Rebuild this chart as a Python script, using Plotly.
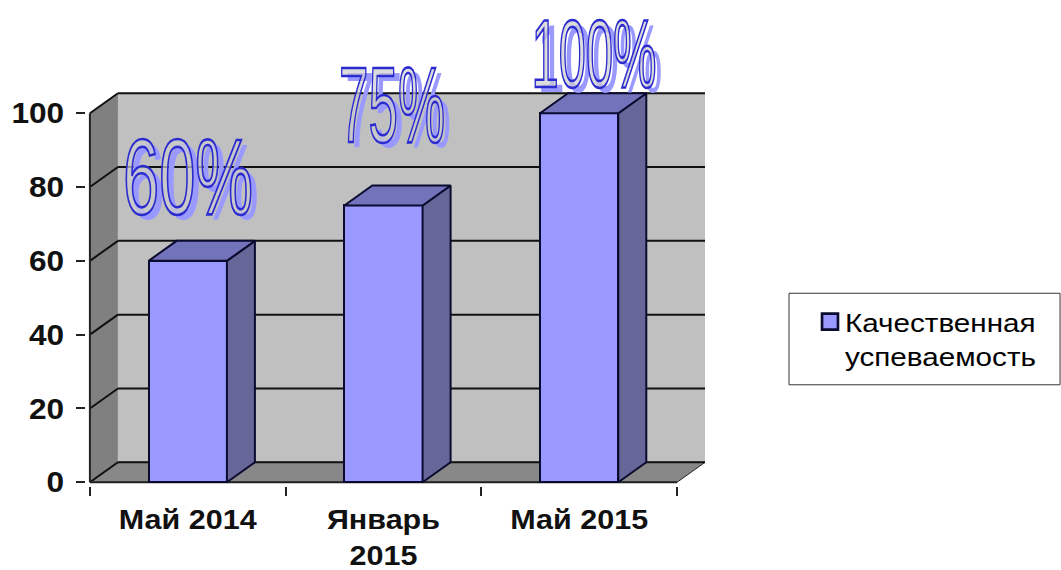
import plotly.graph_objects as go

categories = ["Май 2014", "Январь<br>2015", "Май 2015"]
values = [60, 75, 100]
labels = ["60%", "75%", "100%"]
series_name = "Качественная<br>успеваемость"
y_ticks = [0, 20, 40, 60, 80, 100]

W_PX, H_PX = 1061, 570
X0_PX, BAND_PX = 90.0, 195.67
Y0_PX, UNIT_PX = 482.0, 3.69
DX = 28 / BAND_PX
DY = 20 / UNIT_PX
BAR_W = 0.4
PAD_X, PAD_Y = 0.02, 1.0

x_min, x_max = -PAD_X, 3 + DX
y_min, y_max = -PAD_Y, 100 + DY + 0.6
m_l = X0_PX + x_min * BAND_PX
m_r = W_PX - (X0_PX + x_max * BAND_PX)
m_t = Y0_PX - y_max * UNIT_PX
m_b = H_PX - (Y0_PX - y_min * UNIT_PX)
plot_w = W_PX - m_l - m_r
plot_h = H_PX - m_t - m_b


def fx(p):
    return (p - m_l) / plot_w


def fy(p):
    return 1 - (p - m_t) / plot_h


positions = [i + 0.5 for i in range(len(categories))]
fig = go.Figure()

fig.add_trace(go.Bar(
    x=positions, y=values, width=BAR_W, name=series_name,
    marker=dict(color="#9999FF", line=dict(color="#0B0B30", width=2)),
    hoverinfo="skip", showlegend=True,
))

for p, v in zip(positions, values):
    r = p + BAR_W / 2
    l = p - BAR_W / 2
    fig.add_trace(go.Scatter(
        x=[r, r + DX, r + DX, r, r], y=[0, DY, v + DY, v, 0],
        fill="toself", fillcolor="#666699", mode="lines",
        line=dict(color="#0B0B30", width=2), showlegend=False, hoverinfo="skip",
    ))
    fig.add_trace(go.Scatter(
        x=[l, r, r + DX, l + DX, l], y=[v, v, v + DY, v + DY, v],
        fill="toself", fillcolor="#7373BB", mode="lines",
        line=dict(color="#0B0B30", width=2), showlegend=False, hoverinfo="skip",
    ))

shapes = []
shapes.append(dict(type="rect", x0=DX, x1=3 + DX, y0=DY, y1=100 + DY, layer="below",
                   fillcolor="#C0C0C0", line=dict(width=0)))
shapes.append(dict(type="path", path=f"M0,0 L{DX},{DY} L{DX},{100 + DY} L0,100 Z", layer="below",
                   fillcolor="#808080", line=dict(width=0)))
shapes.append(dict(type="path", path=f"M0,0 L{DX},{DY} L{3 + DX},{DY} L3,0 Z", layer="below",
                   fillcolor="#888888", line=dict(color="#222222", width=1)))
for t in y_ticks:
    shapes.append(dict(type="line", x0=DX, x1=3 + DX, y0=t + DY, y1=t + DY, layer="below",
                       line=dict(color="#111111", width=2)))
    shapes.append(dict(type="line", x0=0, x1=DX, y0=t, y1=t + DY, layer="below",
                       line=dict(color="#111111", width=2)))
shapes.append(dict(type="line", x0=0, x1=0, y0=0, y1=100, layer="below", line=dict(color="#222222", width=2)))
shapes.append(dict(type="line", x0=0, x1=3, y0=0, y1=0, layer="below", line=dict(color="#222222", width=2)))
shapes.append(dict(type="rect", xref="paper", yref="paper", x0=fx(789), x1=fx(1060), y0=fy(384.5), y1=fy(293),
                   line=dict(color="#333333", width=1), fillcolor="white"))

# WordArt-style value labels: a flat shadow copy, then the outlined copy
x_shift = [0.7, 8.5, 14.8]
y_shift = [84, 100, 60]
font_sizes = [107, 107, 97]
annotations = []
for lab, p, v, xs, ys, fs in zip(labels, positions, values, x_shift, y_shift, font_sizes):
    annotations.append(dict(text=lab, x=p, y=v, xref="x", yref="y", showarrow=False,
                            xshift=xs + 6, yshift=ys - 5,
                            font=dict(family="Liberation Sans", size=fs, color="#9999FF")))
for lab, p, v, xs, ys, fs in zip(labels, positions, values, x_shift, y_shift, font_sizes):
    annotations.append(dict(text=lab, x=p, y=v, xref="x", yref="y", showarrow=False,
                            xshift=xs, yshift=ys,
                            font=dict(family="Liberation Sans", size=fs, color="rgba(205,205,205,0.7)")))

fig.update_layout(
    width=W_PX, height=H_PX, paper_bgcolor="white", plot_bgcolor="white",
    margin=dict(l=m_l, r=m_r, t=m_t, b=m_b, pad=0, autoexpand=False),
    bargap=0, showlegend=True, shapes=shapes, annotations=annotations,
    font=dict(family="Liberation Sans", color="black"),
    legend=dict(x=fx(805), y=fy(298), xanchor="left", yanchor="top", bgcolor="rgba(0,0,0,0)",
                borderwidth=0, font=dict(family="Liberation Sans", size=26, color="black"),
                itemwidth=30, traceorder="normal", valign="top"),
    xaxis=dict(range=[x_min, x_max], tickmode="array", tickvals=positions, ticktext=categories,
               ticks="", showgrid=False, zeroline=False, showline=False, ticklabelstandoff=14,
               tickfont=dict(family="Liberation Sans", size=28, color="#111111", weight="bold"),
               minor=dict(tickmode="array", tickvals=[0, 1, 2, 3], ticks="outside", ticklen=9,
                          tickcolor="#222222", tickwidth=1.5, showgrid=False)),
    yaxis=dict(range=[y_min, y_max], tickmode="array", tickvals=y_ticks, ticks="outside", ticklen=9,
               tickcolor="#222222", tickwidth=1.5, showgrid=False, zeroline=False, showline=False,
               ticklabelstandoff=6,
               tickfont=dict(family="Liberation Sans", size=29, color="#111111", weight="bold")),
)

post = """
document.body.style.margin = '0';
var a = document.querySelectorAll('.annotation-text');
var w = [130, 106, 125];
for (var i = 0; i < a.length; i++) {
  var k = i % 3;
  a[i].setAttribute('textLength', w[k]);
  a[i].setAttribute('lengthAdjust', 'spacingAndGlyphs');
  if (i >= 3) {
    a[i].style.setProperty('stroke', '#2B2BD0');
    a[i].style.setProperty('stroke-width', '2.6px');
  }
}
function stretch(el, f) {
  el.setAttribute('textLength', el.getComputedTextLength() * f);
  el.setAttribute('lengthAdjust', 'spacingAndGlyphs');
}
document.querySelectorAll('.xtick text, .legendtext').forEach(function (t) {
  var f = t.classList.contains('legendtext') ? 1.14 : 1.09;
  var lines = t.querySelectorAll('tspan.line');
  if (lines.length) { lines.forEach(function (s) { stretch(s, f); }); }
  else { stretch(t, f); }
});
document.querySelectorAll('.ytick text').forEach(function (t) { stretch(t, 1.09); });
document.querySelectorAll('.legendpoints path').forEach(function (p) {
  var tr = p.getAttribute('transform') || '';
  p.setAttribute('transform', tr + ' translate(5,0) scale(1.33)');
});
document.querySelectorAll('.legend .scrollbox').forEach(function (g) { g.removeAttribute('clip-path'); });
document.querySelectorAll('.legend').forEach(function (g) { g.style.overflow = 'visible'; });
"""
fig.write_html("out.html", post_script=post, config=dict(displayModeBar=False))
